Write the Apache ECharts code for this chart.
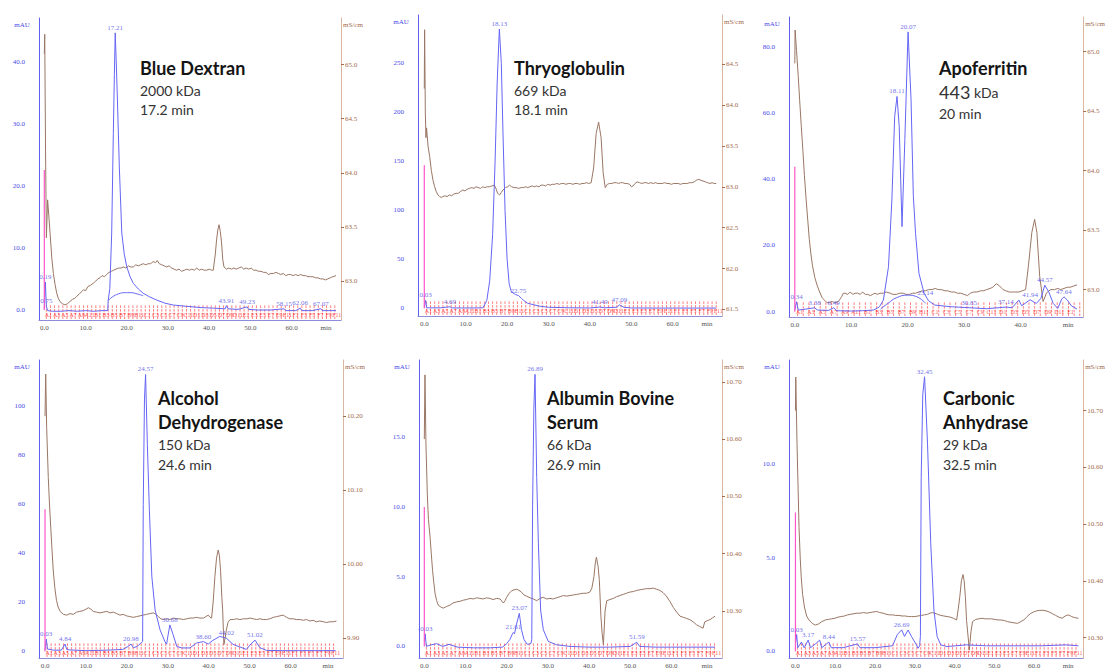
<!DOCTYPE html>
<html><head><meta charset="utf-8">
<script src="https://cdn.jsdelivr.net/npm/echarts@6/dist/echarts.min.js"></script>
<style>html,body{margin:0;padding:0;background:#fff}#c{width:1106px;height:669px}</style>
</head><body><div id="c"></div><script>
// ---------- tick labels ----------
const xTicks60 = [0,10,20,30,40,50,60];
const xTicks40 = [0,10,20,30,40];
const p1LeftTicks = [0,10,20,30,40];           const p1RightTicks = [63.0,63.5,64.0,64.5,65.0];
const p2LeftTicks = [0,50,100,150,200,250];    const p2RightTicks = [61.5,62.0,62.5,63.0,63.5,64.0,64.5];
const p3LeftTicks = [0,20,40,60,80];           const p3RightTicks = [63.0,63.5,64.0,64.5,65.0];
const p4LeftTicks = [0,20,40,60,80,100];       const p4RightTicks = [9.90,10.00,10.10,10.20];
const p5LeftTicks = [0,5,10,15];               const p5RightTicks = [10.30,10.40,10.50,10.60,10.70];
const p6LeftTicks = [0,5,10];                  const p6RightTicks = [10.30,10.40,10.50,10.60,10.70];

// ---------- titles ----------
const p1Title = ['Blue Dextran','2000 kDa','17.2 min'];
const p2Title = ['Thryoglobulin','669 kDa','18.1 min'];
const p3Title = ['Apoferritin','443','kDa','20 min'];
const p4Title = ['Alcohol','Dehydrogenase','150 kDa','24.6 min'];
const p5Title = ['Albumin Bovine','Serum','66 kDa','26.9 min'];
const p6Title = ['Carbonic','Anhydrase','29 kDa','32.5 min'];

// ---------- fraction collector ----------
const fractionTimes = [0.5,1.5,2.5,3.5,4.5,5.5,6.5,7.5,8.5,9.5,10.5,11.5,12.5,13.5,14.5,15.5,16.5,17.5,18.5,19.5,20.5,21.5,22.5,23.5,24.5,25.5,26.5,27.5,28.5,29.5,30.5,31.5,32.5,33.5,34.5,35.5,36.5,37.5,38.5,39.5,40.5,41.5,42.5,43.5,44.5,45.5,46.5,47.5,48.5,49.5,50.5,51.5,52.5,53.5,54.5,55.5,56.5,57.5,58.5,59.5,60.5,61.5,62.5,63.5,64.5,65.5,66.5,67.5,68.5,69.5,70.5];
const fractionNames = ['A1','A2','A3','A4','A5','A6','A7','A8','A9','A10','A11','A12','B1','B2','B3','B4','B5','B6','B7','B8','B9','B10','B11','B12','C1','C2','C3','C4','C5','C6','C7','C8','C9','C10','C11','C12','D1','D2','D3','D4','D5','D6','D7','D8','D9','D10','D11','D12','E1','E2','E3','E4','E5','E6','E7','E8','E9','E10','E11','E12','F1','F2','F3','F4','F5','F6','F7','F8','F9','F10','F11'];

// ---------- panel 1: Blue Dextran ----------
const p1Uv = [[0,0.2],[0.25,4.5],[0.5,0.6],[0.8,-0.1],[2,-0.2],[4,-0.2],[6,-0.1],[8,-0.2],[10,-0.1],[12,-0.2],[14,-0.1],[15.4,-0.1],[15.5,1.5],[15.9,3.5],[16.35,12.4],[16.75,28.5],[17.0,38],[17.21,44.7],[17.45,40],[17.73,34.2],[18.2,23.2],[18.8,12.4],[19.4,9],[20.0,7.0],[20.8,5.4],[21.6,4.3],[22.8,3.4],[24.0,2.7],[25.6,2.1],[27.3,1.6],[29.3,1.1],[31.3,0.8],[34.5,0.6],[37.8,0.4],[41,0.3],[43.9,0.2],[44.2,0.7],[44.6,0.2],[47,0.1],[49.2,0.5],[49.6,0.1],[52,0.0],[55,0.0],[58.2,0.2],[58.6,-0.1],[61,-0.1],[62.1,0.3],[62.5,-0.1],[65,-0.1],[67.1,0.2],[67.5,-0.1],[70.8,-0.1]];
const p1Hump = [[15.5,1.5],[16.5,2.1],[18,2.6],[19.5,2.8],[21,2.8],[22.5,2.6],[24,2.3]];
const p1Inj = [[0,0],[0,22.6]];
const p1Peaks = [[17.21,44.7,'17.21'],[0.25,4.5,'0.19'],[0.5,0.6,'0.75'],[44.2,0.7,'43.91'],[49.2,0.5,'49.23'],[58.2,0.2,'58.15'],[62.1,0.3,'62.06'],[67.1,0.2,'67.07']];
const p1Cond = [[0,65.1],[0.1,65.28],[0.3,64.2],[0.5,63.4],[0.8,63.75],[1.1,63.6],[1.4,63.44],[1.8,63.22],[2.2,63.07],[2.6,62.97],[3.0,62.89],[3.4,62.84],[3.8,62.81],[4.4,62.79],[5.0,62.78],[5.6,62.79],[6.2,62.81],[6.8,62.83],[7.4,62.84],[7.9,62.86],[8.5,62.88],[9.0,62.90],[9.5,62.92],[10.0,62.91],[10.6,62.95],[11.2,62.96],[11.9,62.98],[12.5,63.0],[13.0,63.02],[13.5,63.03],[14.0,63.05],[14.6,63.04],[15.1,63.06],[15.7,63.08],[16.3,63.09],[16.8,63.10],[17.4,63.11],[18.0,63.12],[18.6,63.12],[19.2,63.13],[19.8,63.12],[20.4,63.14],[21.0,63.13],[21.6,63.13],[22.2,63.15],[22.8,63.14],[23.4,63.15],[24.0,63.16],[24.6,63.15],[25.2,63.16],[25.8,63.16],[26.4,63.18],[27.0,63.17],[27.4,63.19],[27.9,63.16],[28.5,63.15],[29.1,63.14],[29.7,63.13],[30.3,63.14],[30.9,63.12],[31.5,63.11],[32.1,63.10],[32.7,63.11],[33.3,63.09],[34.0,63.10],[34.6,63.11],[35.2,63.10],[35.8,63.11],[36.4,63.10],[37.0,63.12],[37.6,63.10],[38.2,63.11],[38.8,63.10],[39.4,63.10],[40.0,63.11],[40.6,63.10],[41.0,63.10],[41.5,63.25],[41.8,63.38],[42.1,63.47],[42.4,63.52],[42.7,63.46],[43.0,63.36],[43.3,63.2],[43.6,63.13],[44.2,63.11],[44.8,63.12],[45.4,63.11],[46.0,63.12],[46.6,63.11],[47.2,63.12],[47.8,63.13],[48.4,63.11],[49.0,63.12],[49.6,63.11],[50.2,63.12],[50.8,63.10],[51.4,63.10],[52.0,63.09],[52.6,63.09],[53.2,63.08],[53.8,63.08],[54.4,63.06],[55.0,63.07],[55.6,63.07],[56.2,63.08],[56.8,63.07],[57.4,63.06],[58.0,63.07],[58.6,63.05],[59.2,63.06],[59.8,63.06],[60.4,63.05],[61.0,63.06],[61.6,63.05],[62.2,63.06],[62.8,63.05],[63.4,63.05],[64.0,63.04],[64.6,63.04],[65.2,63.04],[65.8,63.03],[66.4,63.03],[67.0,63.02],[67.6,63.02],[68.2,63.01],[68.8,63.02],[69.4,63.03],[70.0,63.04],[70.8,63.05]];

// ---------- panel 2: Thyroglobulin ----------
const p2Uv = [[0,0.3],[0.3,8],[0.6,0.5],[1.5,0.4],[4,0.5],[6.2,1.5],[6.6,0.4],[9,0.3],[12,0.3],[14.2,0.5],[15.1,8],[15.8,28],[16.5,75],[17.1,150],[17.6,230],[18.13,285],[18.6,250],[19.0,180],[19.5,100],[20.0,50],[20.5,25],[21.0,17],[22.0,14],[22.75,13],[23.5,10],[24.0,8],[25.0,5],[26.0,4],[28.0,2],[30.0,1],[35.0,0.5],[40.0,0.3],[42.4,1.2],[43.5,0.5],[46.5,1],[47.1,3.5],[48.2,1],[50,0.3],[55,0.2],[60,0.2],[65,0.2],[70.5,0.2]];
const p2Inj = [[0,0],[0,146]];
const p2Peaks = [[18.13,285,'18.13'],[22.75,13,'22.75'],[0.3,8,'0.03'],[6.2,1.5,'4.69'],[42.4,1.2,'41.49'],[47.1,3.5,'47.09']];
const p2Cond = [[0,64.2],[0.08,64.92],[0.25,63.9],[0.4,63.6],[0.55,63.72],[0.9,63.5],[1.3,63.37],[1.7,63.2],[2.1,63.08],[2.5,63.0],[2.9,62.94],[3.3,62.9],[3.7,62.88],[4.1,62.87],[4.5,62.88],[5.0,62.89],[5.5,62.88],[6.1,62.90],[6.6,62.89],[7.1,62.91],[7.7,62.92],[8.2,62.92],[8.7,62.94],[9.3,62.96],[9.8,62.95],[10.4,62.97],[10.9,62.98],[11.5,62.99],[12.0,62.98],[12.5,63.0],[13.0,62.99],[13.6,62.98],[14.1,63.0],[14.6,62.99],[15.2,63.0],[15.7,63.0],[16.3,63.01],[16.9,63.02],[17.3,62.98],[17.7,62.92],[18.2,62.90],[18.6,62.93],[19.0,62.96],[19.6,62.99],[20.1,63.0],[20.6,63.02],[21.1,63.0],[21.7,62.99],[22.2,62.99],[22.8,62.98],[23.4,62.99],[23.9,62.99],[24.5,63.0],[25.0,62.99],[25.5,63.0],[26.1,63.01],[26.6,63.0],[27.1,63.01],[27.7,63.0],[28.2,63.02],[28.7,63.02],[29.3,63.01],[29.8,63.03],[30.4,63.02],[30.9,63.03],[31.5,63.03],[32.0,63.04],[32.6,63.03],[33.1,63.04],[33.7,63.04],[34.2,63.03],[34.8,63.04],[35.3,63.04],[35.9,63.03],[36.4,63.04],[37.0,63.04],[37.5,63.03],[38.1,63.04],[38.6,63.04],[39.2,63.05],[39.7,63.04],[40.3,63.05],[40.9,63.23],[41.5,63.65],[42.1,63.79],[42.7,63.6],[43.2,63.17],[43.7,62.99],[44.2,63.03],[44.7,63.04],[45.3,63.04],[45.8,63.05],[46.4,63.05],[46.9,63.04],[47.4,63.05],[47.9,63.05],[48.5,63.04],[49.0,63.04],[49.6,63.03],[50.0,63.0],[50.4,63.01],[50.9,63.04],[51.4,63.06],[52.0,63.05],[52.5,63.04],[53.1,63.05],[53.6,63.05],[54.2,63.04],[54.7,63.05],[55.3,63.04],[55.8,63.05],[56.4,63.04],[56.9,63.04],[57.5,63.04],[58.0,63.05],[58.6,63.04],[59.1,63.04],[59.7,63.03],[60.2,63.04],[60.8,63.04],[61.3,63.04],[61.9,63.03],[62.4,63.04],[63.0,63.04],[63.5,63.04],[64.1,63.05],[64.6,63.05],[65.2,63.06],[65.7,63.08],[66.3,63.09],[66.8,63.08],[67.3,63.07],[67.9,63.06],[68.4,63.05],[69.0,63.04],[69.5,63.05],[70.0,63.04],[70.5,63.04]];

// ---------- panel 3: Apoferritin ----------
const p3Uv = [[0,0.5],[0.3,3],[0.6,0.5],[2,0.8],[3.5,1.2],[4,0.5],[6,0.4],[6.9,1.2],[7.4,0.3],[10,0.2],[12,0.3],[14,0.5],[15,1.5],[15.7,3.5],[16.6,13.6],[17.2,33.7],[17.7,59],[18.11,65],[18.5,56],[19.0,25.7],[19.5,52],[20.07,84.5],[20.6,64],[21.0,35],[21.4,23.6],[22.0,11.6],[22.9,5.6],[23.7,3.3],[24.8,2],[27.7,1.5],[30.9,1.2],[34,0.9],[37.4,1.4],[38.5,1.2],[39.7,3.5],[40.2,1.8],[41.7,3.6],[42.8,2.5],[43.6,4],[44.3,8],[45.0,6],[45.8,2.5],[46.6,1],[47.3,3.8],[47.7,4.5],[48.3,3.5],[49,1.8],[50,0.8]];
const p3Hump = [[15.2,0.8],[16.5,2.5],[18,4.2],[20,5],[21.5,4.6],[23.2,2.5]];
const p3Inj = [[0,0],[0,43.8]];
const p3Peaks = [[18.11,65,'18.11'],[20.07,84.5,'20.07'],[23.14,4,'23.14'],[0.3,3,'0.34'],[3.5,1.2,'3.38'],[6.9,1.2,'6.49'],[30.9,1.2,'30.85'],[37.4,1.4,'37.14'],[41.7,3.6,'41.94'],[44.3,8,'44.57'],[47.7,4.5,'47.64']];
const p3Cond = [[0,64.9],[0.05,65.18],[0.3,65.01],[0.6,64.8],[0.86,64.59],[1.15,64.37],[1.43,64.17],[1.7,63.96],[2.0,63.76],[2.3,63.58],[2.57,63.42],[2.85,63.3],[3.14,63.2],[3.55,63.1],[4.0,63.03],[4.4,62.98],[4.86,62.93],[5.3,62.91],[5.7,62.89],[6.1,62.89],[6.6,62.90],[7.1,62.89],[7.7,62.90],[8.0,62.92],[8.3,62.94],[8.6,62.97],[8.9,62.97],[9.4,62.96],[9.8,62.98],[10.3,62.96],[10.7,62.97],[11.1,62.97],[11.6,62.96],[12.0,62.98],[12.5,62.96],[12.9,62.96],[13.4,62.95],[13.8,62.96],[14.2,62.97],[14.6,62.96],[15.1,62.97],[15.7,62.97],[16.2,62.98],[16.9,62.97],[17.4,62.96],[18.0,62.96],[18.6,62.97],[19.2,62.97],[19.7,62.96],[20.3,62.96],[20.9,62.97],[21.4,62.97],[22.0,62.98],[22.6,62.99],[23.1,62.99],[23.7,63.0],[24.3,63.0],[24.9,63.01],[25.4,63.0],[26.0,63.0],[26.6,62.99],[27.1,62.99],[27.7,62.98],[28.3,62.98],[28.8,62.97],[29.4,62.97],[30.0,62.96],[30.6,62.95],[31.1,62.97],[31.7,62.98],[32.3,62.98],[32.9,62.99],[33.4,62.99],[34.0,63.0],[34.6,63.01],[35.1,63.02],[35.7,63.05],[36.0,63.04],[36.3,63.03],[36.9,63.0],[37.4,62.99],[38.0,62.98],[38.6,62.98],[39.1,62.98],[39.7,62.98],[40.3,62.99],[40.9,63.0],[41.4,63.2],[42.0,63.48],[42.5,63.59],[42.9,63.48],[43.4,63.11],[44.0,62.90],[44.6,62.97],[45.0,62.99],[45.4,63.0],[46.0,63.0],[46.6,63.01],[47.1,63.0],[47.7,63.01],[48.3,63.02],[48.8,63.02],[49.4,63.03],[50.0,63.04]];

// ---------- panel 4: Alcohol Dehydrogenase ----------
const p4Uv = [[0,0.5],[0.3,5],[0.6,1],[2,0.5],[4,0.5],[4.9,3],[5.3,0.8],[6,0.6],[10,0.3],[15,0.5],[19,0.8],[20.3,2],[21.0,3],[21.6,1.5],[22.5,2],[23.5,3.5],[23.85,4],[24.0,60],[24.3,103],[24.57,113],[25.0,84.5],[25.5,57.4],[26.1,30.4],[26.9,16.9],[28.1,8.8],[29.3,4.0],[29.7,2.9],[30.1,7],[30.5,10.8],[31.3,6.8],[32.2,2],[33.4,1.4],[35.4,1.4],[37.0,3.4],[38.7,4.0],[39.9,3],[41.0,4.5],[42.7,6.1],[44.3,5.4],[45.9,2.9],[47.6,1.8],[49.2,0.8],[50.3,3],[51.3,4.6],[52.5,1.5],[54.1,0.4],[58,0.3],[62,0.3],[66,0.3],[71,0.3]];
const p4Inj = [[0,0],[0,58]];
const p4Peaks = [[24.57,113,'24.57'],[30.5,10.8,'30.68'],[21.0,3,'20.98'],[38.7,4.0,'38.60'],[44.3,5.4,'44.02'],[51.3,4.6,'51.02'],[0.3,5,'0.03'],[4.9,3,'4.84']];
const p4Cond = [[0,10.2],[0.17,10.257],[0.4,10.185],[0.8,10.117],[1.1,10.08],[1.4,10.05],[1.7,10.02],[2.0,9.992],[2.4,9.968],[2.8,9.951],[3.2,9.942],[3.7,9.936],[4.5,9.932],[5.3,9.931],[6.1,9.933],[6.9,9.932],[7.7,9.935],[8.5,9.936],[9.3,9.937],[10.0,9.939],[10.6,9.941],[11.2,9.939],[11.8,9.936],[12.6,9.935],[13.4,9.934],[14.2,9.935],[15.1,9.936],[15.9,9.934],[16.7,9.935],[17.5,9.933],[18.3,9.931],[19.1,9.932],[19.9,9.930],[20.7,9.929],[21.6,9.928],[22.4,9.929],[23.2,9.930],[24.0,9.931],[24.8,9.932],[25.6,9.933],[26.5,9.934],[27.1,9.932],[27.7,9.929],[28.3,9.926],[28.9,9.925],[29.7,9.926],[30.5,9.925],[31.3,9.927],[32.2,9.926],[33.0,9.926],[33.8,9.925],[34.6,9.926],[35.4,9.927],[36.2,9.927],[37.0,9.928],[37.8,9.927],[38.7,9.927],[39.3,9.929],[39.9,9.931],[40.3,9.928],[40.7,9.927],[41.1,9.95],[41.5,9.983],[41.9,10.008],[42.3,10.019],[42.6,10.012],[42.9,9.99],[43.2,9.955],[43.4,9.938],[43.7,9.891],[44.0,9.90],[44.3,9.911],[44.7,9.921],[45.2,9.925],[46.0,9.925],[46.8,9.926],[47.6,9.925],[48.5,9.926],[49.3,9.926],[50.1,9.927],[50.9,9.926],[51.7,9.925],[52.5,9.926],[53.3,9.925],[54.1,9.925],[54.9,9.926],[55.8,9.928],[56.6,9.929],[57.4,9.930],[58.2,9.931],[59.0,9.928],[59.8,9.926],[60.6,9.926],[61.5,9.925],[62.3,9.925],[63.1,9.924],[63.9,9.925],[64.7,9.923],[65.5,9.924],[66.3,9.922],[67.1,9.923],[68.0,9.922],[68.8,9.921],[69.6,9.922],[70.4,9.922],[71.2,9.923]];

// ---------- panel 5: Albumin Bovine Serum ----------
const p5Uv = [[0,0.4],[0.2,0.9],[0.5,0.0],[1.5,0.1],[3,0.2],[4.5,0.0],[6,0.15],[8,-0.05],[12,-0.1],[16,-0.1],[19,-0.05],[20.0,0.2],[20.8,0.5],[21.4,0.9],[21.61,1.0],[21.9,0.9],[22.4,1.6],[23.07,2.37],[23.6,1.2],[24.2,0.5],[25.0,0.15],[25.9,0.2],[26.1,0.5],[26.3,10],[26.6,17],[26.89,19.5],[27.3,12.1],[27.7,7.4],[28.25,2.6],[28.9,1.2],[30.1,0.36],[32.1,0.12],[35.4,0.0],[40,-0.05],[45,-0.05],[50,0.0],[51.6,0.3],[52.3,0.0],[56,-0.05],[60,-0.05],[65,-0.05],[70.6,-0.05]];
const p5Inj = [[0,0],[0,10]];
const p5Peaks = [[26.89,19.5,'26.89'],[23.07,2.37,'23.07'],[21.61,1.0,'21.61'],[0.2,0.9,'-0.03'],[51.6,0.3,'51.59']];
const p5Cond = [[0,10.6],[0.16,10.712],[0.4,10.59],[0.73,10.504],[1.0,10.46],[1.4,10.429],[1.7,10.40],[2.0,10.371],[2.3,10.35],[2.6,10.331],[3.0,10.318],[3.4,10.31],[4.0,10.307],[4.6,10.305],[5.4,10.308],[6.2,10.31],[7.0,10.314],[7.9,10.316],[8.7,10.317],[9.5,10.319],[10.3,10.32],[11.1,10.322],[11.9,10.321],[12.7,10.323],[13.5,10.322],[14.3,10.321],[15.1,10.323],[15.9,10.322],[16.7,10.320],[17.6,10.322],[18.4,10.321],[19.2,10.314],[19.6,10.318],[20.0,10.324],[20.6,10.331],[21.2,10.335],[21.8,10.337],[22.4,10.338],[23.0,10.336],[23.6,10.333],[24.2,10.328],[24.8,10.326],[25.7,10.323],[26.5,10.321],[27.3,10.318],[28.1,10.322],[28.9,10.324],[29.7,10.321],[30.5,10.322],[31.3,10.321],[32.1,10.323],[33.0,10.325],[33.8,10.327],[34.6,10.326],[35.4,10.327],[36.2,10.328],[37.0,10.329],[37.8,10.33],[38.6,10.331],[39.4,10.331],[40.2,10.333],[40.7,10.34],[41.2,10.36],[41.5,10.382],[41.8,10.394],[42.2,10.378],[42.5,10.355],[42.9,10.29],[43.2,10.26],[43.5,10.241],[43.9,10.30],[44.3,10.318],[45.1,10.32],[45.9,10.322],[46.7,10.325],[47.5,10.327],[48.3,10.329],[49.1,10.331],[49.9,10.333],[50.8,10.334],[51.6,10.336],[52.4,10.337],[53.2,10.338],[54.0,10.339],[54.8,10.339],[55.6,10.340],[56.4,10.338],[57.2,10.336],[58.0,10.332],[58.8,10.326],[59.7,10.316],[60.5,10.306],[61.3,10.298],[62.1,10.291],[62.9,10.289],[63.7,10.287],[64.5,10.285],[65.3,10.281],[66.1,10.276],[66.9,10.273],[67.7,10.27],[68.1,10.281],[68.7,10.283],[69.4,10.285],[70.0,10.288],[70.6,10.291]];

// ---------- panel 6: Carbonic Anhydrase ----------
const p6Uv = [[0,0.4],[0.3,0.9],[0.6,0.2],[1.5,0.5],[2.2,0.2],[3.2,0.6],[3.8,0.2],[5,0.4],[6.1,0.6],[6.6,0.2],[8.4,0.5],[9,0.2],[12,0.2],[15.6,0.4],[16.2,0.2],[20,0.2],[24.4,0.3],[25.6,0.9],[26.69,1.15],[27.4,0.8],[28.3,1.14],[29.2,0.78],[30.4,0.35],[30.8,0.17],[31.2,0.3],[31.4,0.8],[31.6,9.26],[32.0,13.7],[32.45,14.63],[33.2,11.0],[34.0,5.73],[34.8,2.2],[35.6,0.8],[36.5,0.35],[38.1,0.26],[42.9,0.35],[48,0.3],[55,0.3],[62,0.3],[68,0.35],[71.1,0.3]];
const p6Inj = [[0,0],[0,7.4]];
const p6Peaks = [[32.45,14.63,'32.45'],[26.69,1.15,'26.69'],[0.3,0.9,'0.03'],[3.2,0.6,'3.17'],[8.4,0.5,'8.44'],[15.6,0.4,'15.57']];
const p6Cond = [[0,10.70],[0.08,10.759],[0.4,10.64],[0.9,10.494],[1.2,10.44],[1.45,10.407],[1.8,10.376],[2.25,10.354],[2.8,10.338],[3.4,10.331],[4.2,10.325],[5.0,10.322],[5.8,10.324],[6.6,10.328],[7.5,10.331],[8.3,10.332],[9.1,10.333],[9.9,10.334],[10.7,10.336],[11.5,10.337],[12.3,10.338],[13.1,10.340],[13.9,10.341],[14.7,10.342],[15.5,10.343],[16.3,10.343],[17.1,10.344],[17.9,10.343],[18.7,10.344],[19.5,10.345],[20.4,10.346],[21.2,10.344],[22.0,10.343],[22.8,10.341],[23.6,10.340],[24.4,10.340],[25.2,10.339],[26.0,10.339],[26.8,10.338],[27.6,10.338],[28.4,10.337],[29.2,10.337],[30.0,10.337],[30.8,10.338],[31.6,10.339],[32.4,10.340],[33.2,10.341],[33.8,10.343],[34.4,10.344],[35.0,10.343],[35.7,10.341],[36.5,10.339],[37.3,10.338],[38.1,10.337],[38.9,10.336],[39.7,10.334],[40.5,10.331],[40.9,10.35],[41.3,10.372],[41.7,10.40],[42.1,10.411],[42.4,10.40],[42.7,10.372],[43.0,10.33],[43.3,10.308],[43.7,10.278],[44.1,10.31],[44.5,10.328],[45.3,10.332],[46.1,10.333],[46.9,10.334],[47.7,10.333],[48.5,10.333],[49.3,10.333],[50.1,10.332],[50.9,10.331],[51.7,10.331],[52.5,10.330],[53.3,10.328],[54.1,10.327],[54.9,10.326],[55.8,10.325],[56.6,10.328],[57.4,10.331],[58.2,10.337],[59.0,10.342],[59.8,10.345],[60.6,10.347],[61.4,10.348],[62.2,10.348],[63.0,10.347],[63.8,10.345],[64.6,10.342],[65.4,10.339],[66.2,10.336],[67.0,10.334],[67.8,10.338],[68.6,10.340],[69.4,10.337],[70.2,10.335],[71.1,10.334]];

// ---------- layout (positions / axis extents) ----------
const layout = [
  {left:39,  top:18,  width:302, height:302, x:[-1.29,72.0], yl:[-1.61,47.1], yr:[62.64,65.43], tl:[140,54.7]},
  {left:418, top:15,  width:304, height:301, x:[-1.52,71.9], yl:[-7.9,299.3], yr:[61.42,65.10], tl:[514,54.7]},
  {left:789, top:17,  width:304, height:300, x:[-1.03,51.1], yl:[-1.6,89.0],  yr:[62.77,65.29], tl:[939,55.3]},
  {left:39,  top:360, width:304, height:300, x:[-1.47,72.8], yl:[-2.7,118.9], yr:[9.873,10.276], tl:[158,386.3]},
  {left:419, top:360, width:303, height:300, x:[-1.29,72.3], yl:[-0.83,20.53], yr:[10.218,10.738], tl:[547,386.3]},
  {left:789, top:360, width:306, height:300, x:[-1.62,72.3], yl:[-0.35,15.52], yr:[10.264,10.789], tl:[943,386.3]}
];

const panels = [
  {uv:p1Uv, hump:p1Hump, cond:p1Cond, inj:p1Inj, peaks:p1Peaks, xt:xTicks60, lt:p1LeftTicks, rt:p1RightTicks, ld:1, rd:1,
   title:'{a|'+p1Title[0]+'}\n{b|'+p1Title[1]+'}\n{b|'+p1Title[2]+'}'},
  {uv:p2Uv, hump:null, cond:p2Cond, inj:p2Inj, peaks:p2Peaks, xt:xTicks60, lt:p2LeftTicks, rt:p2RightTicks, ld:0, rd:1,
   title:'{a|'+p2Title[0]+'}\n{b|'+p2Title[1]+'}\n{b|'+p2Title[2]+'}'},
  {uv:p3Uv, hump:p3Hump, cond:p3Cond, inj:p3Inj, peaks:p3Peaks, xt:xTicks40, lt:p3LeftTicks, rt:p3RightTicks, ld:1, rd:1,
   title:'{a|'+p3Title[0]+'}\n{c|'+p3Title[1]+'}{b| '+p3Title[2]+'}\n{b2|'+p3Title[3]+'}'},
  {uv:p4Uv, hump:null, cond:p4Cond, inj:p4Inj, peaks:p4Peaks, xt:xTicks60, lt:p4LeftTicks, rt:p4RightTicks, ld:0, rd:2,
   title:'{a2|'+p4Title[0]+'}\n{a2|'+p4Title[1]+'}\n{b2|'+p4Title[2]+'}\n{b2|'+p4Title[3]+'}'},
  {uv:p5Uv, hump:null, cond:p5Cond, inj:p5Inj, peaks:p5Peaks, xt:xTicks60, lt:p5LeftTicks, rt:p5RightTicks, ld:1, rd:2,
   title:'{a2|'+p5Title[0]+'}\n{a2|'+p5Title[1]+'}\n{b2|'+p5Title[2]+'}\n{b2|'+p5Title[3]+'}'},
  {uv:p6Uv, hump:null, cond:p6Cond, inj:p6Inj, peaks:p6Peaks, xt:xTicks60, lt:p6LeftTicks, rt:p6RightTicks, ld:1, rd:2,
   title:'{a2|'+p6Title[0]+'}\n{a2|'+p6Title[1]+'}\n{b2|'+p6Title[2]+'}\n{b2|'+p6Title[3]+'}'}
];

const SERIF = '"Liberation Serif", "DejaVu Serif", serif';
const SANS = 'Lato, "Open Sans", sans-serif';
const BLUE = '#6565f5', BLUE_TXT = '#4a4ae6', BROWN = '#9a7664', BROWN_TXT = '#a36a4c', PINK = '#ff55c8', RED = '#ff5a5a';
const RICH = {
  a:  {fontFamily:SANS, fontWeight:'bold', fontSize:18, lineHeight:26, color:'#141414'},
  a2: {fontFamily:SANS, fontWeight:'bold', fontSize:18, lineHeight:24, color:'#141414'},
  b:  {fontFamily:SANS, fontWeight:'normal', fontSize:14, lineHeight:19, color:'#333'},
  b2: {fontFamily:SANS, fontWeight:'normal', fontSize:14, lineHeight:20, color:'#333'},
  c:  {fontFamily:SANS, fontWeight:'normal', fontSize:18, lineHeight:22, color:'#333'}
};

function fractionLineRenderer(params, api) {
  const cs = params.coordSys;
  const x = api.coord([api.value(0), 0])[0];
  const bottom = cs.y + cs.height;
  return {type:'line', shape:{x1:x, y1:bottom - 1, x2:x, y2:bottom - 15},
    style:{stroke:RED, lineWidth:0.8, lineDash:[2.5, 1.2]}};
}

const grid = [], xAxis = [], yAxis = [], series = [], title = [];
panels.forEach((p, i) => {
  const L = layout[i];
  grid.push({left:L.left, top:L.top, width:L.width, height:L.height});
  title.push({left:L.tl[0], top:L.tl[1], padding:0, text:p.title, textStyle:{rich:RICH, fontFamily:SANS, fontWeight:'normal'}});
  xAxis.push({type:'value', gridIndex:i, min:L.x[0], max:L.x[1],
    axisLine:{show:true, onZero:false, lineStyle:{color:'#8c8cd8', width:1}},
    axisTick:{show:false}, splitLine:{show:false},
    axisLabel:{customValues:p.xt, formatter:v => v.toFixed(1), color:'#555', fontSize:7, fontFamily:SERIF, margin:4},
    name:'min', nameLocation:'end', nameGap:-15,
    nameTextStyle:{color:'#555', fontSize:7, fontFamily:SERIF, align:'center', verticalAlign:'top', padding:[4,0,0,0]}});
  yAxis.push({type:'value', gridIndex:i, min:L.yl[0], max:L.yl[1], position:'left',
    axisLine:{show:true, onZero:false, lineStyle:{color:'#6060f0', width:1}},
    axisTick:{show:false}, splitLine:{show:false},
    axisLabel:{customValues:p.lt, formatter:v => v.toFixed(p.ld), color:BLUE_TXT, fontSize:7, fontFamily:SERIF, margin:14},
    name:'mAU', nameLocation:'end', nameGap:-7,
    nameTextStyle:{color:BLUE_TXT, fontSize:7, fontFamily:SERIF, align:'center', verticalAlign:'middle', padding:[0,34,0,0]}});
  yAxis.push({type:'value', gridIndex:i, min:L.yr[0], max:L.yr[1], position:'right',
    axisLine:{show:true, onZero:false, lineStyle:{color:'#d8b6a2', width:1}},
    axisTick:{show:true, customValues:p.rt, length:3, lineStyle:{color:BROWN_TXT}}, splitLine:{show:false},
    axisLabel:{customValues:p.rt, formatter:v => v.toFixed(p.rd), color:BROWN_TXT, fontSize:7, fontFamily:SERIF, margin:4},
    name:'mS/cm', nameLocation:'end', nameGap:-7,
    nameTextStyle:{color:BROWN_TXT, fontSize:7, fontFamily:SERIF, align:'left', verticalAlign:'middle', padding:[0,0,0,2]}});

  // fraction marks (red dashed ticks) + well names (red text)
  series.push({type:'custom', xAxisIndex:i, yAxisIndex:2*i, data:fractionTimes.map(t => [t, 0]),
    renderItem:fractionLineRenderer, clip:true, silent:true, z:1});
  const labelData = [];
  fractionTimes.forEach((t, k) => { if (k % 2 === 0 && t < L.x[1] - 0.6) labelData.push({value:[t, L.yl[0]], name:fractionNames[k]}); });
  series.push({type:'scatter', xAxisIndex:i, yAxisIndex:2*i, symbolSize:0.1, data:labelData,
    itemStyle:{color:'rgba(0,0,0,0)'},
    label:{show:true, position:'inside', offset:[2, -5], formatter:'{b}', color:'#ff1a1a', fontSize:6, fontFamily:SERIF},
    z:1, silent:true});

  series.push({type:'line', xAxisIndex:i, yAxisIndex:2*i+1, data:p.cond, symbol:'none',
    lineStyle:{color:BROWN, width:1}, z:2, silent:true});
  series.push({type:'line', xAxisIndex:i, yAxisIndex:2*i, data:p.uv, symbol:'none',
    lineStyle:{color:BLUE, width:1}, z:3, silent:true});
  if (p.hump) series.push({type:'line', xAxisIndex:i, yAxisIndex:2*i, data:p.hump, symbol:'none', smooth:true,
    lineStyle:{color:BLUE, width:1}, z:3, silent:true});
  series.push({type:'line', xAxisIndex:i, yAxisIndex:2*i, data:p.inj, symbol:'none',
    lineStyle:{color:PINK, width:1.2}, z:4, silent:true});
  series.push({type:'scatter', xAxisIndex:i, yAxisIndex:2*i, symbolSize:1,
    data:p.peaks.map(d => ({value:[d[0], d[1]], name:d[2]})),
    itemStyle:{color:'rgba(0,0,0,0)'},
    label:{show:true, position:'top', distance:1, formatter:'{b}', color:BLUE_TXT, fontSize:7, fontFamily:SERIF},
    z:5, silent:true});
});

const chart = echarts.init(document.getElementById('c'), null, {renderer:'svg', width:1106, height:669});
chart.setOption({animation:false, backgroundColor:'#fff', title, grid, xAxis, yAxis, series});
</script></body></html>
